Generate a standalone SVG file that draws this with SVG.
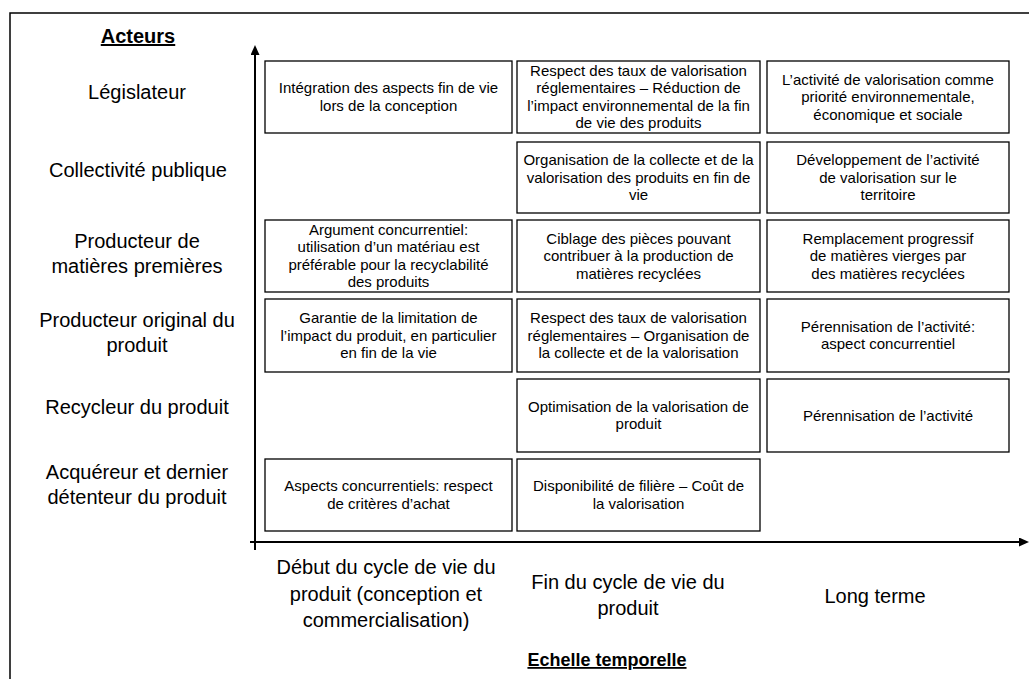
<svg xmlns="http://www.w3.org/2000/svg" width="1029" height="679" viewBox="0 0 1029 679">
<style>
  text { font-family: "Liberation Sans", Arial, sans-serif; fill: #000; }
  .box { fill: #fff; stroke: #000; stroke-width: 1.3; }
  .bt { font-size: 15px; text-anchor: middle; }
  .lab { font-size: 20px; text-anchor: middle; }
  .head { font-weight: bold; text-anchor: middle; text-decoration: underline; }
  .axis { stroke: #000; stroke-width: 2; fill: none; }
</style>
<defs>
  <marker id="arrow" markerUnits="userSpaceOnUse" markerWidth="11" markerHeight="10" refX="0" refY="4.5" orient="auto">
    <path d="M0,0 L10,4.5 L0,9 Z" fill="#000"/>
  </marker>
</defs>
<rect x="0" y="0" width="1029" height="679" fill="#fff"/>
<rect x="10" y="13" width="1030" height="700" fill="none" stroke="#000" stroke-width="1.5"/>

<g id="connectors">
  <line class="axis" x1="255" y1="550" x2="255" y2="55" marker-end="url(#arrow)"/>
  <line class="axis" x1="250" y1="542" x2="1019" y2="542" marker-end="url(#arrow)"/>
</g>

<g id="headers">
  <text class="head" x="138" y="43" font-size="20">Acteurs</text>
  <text class="head" x="607" y="666" font-size="18">Echelle temporelle</text>
</g>

<g id="actors">
  <text class="lab" x="137" y="99">Législateur</text>
  <text class="lab" x="138" y="177">Collectivité publique</text>
  <text class="lab" x="137" y="248"><tspan x="137">Producteur de</tspan><tspan x="137" dy="25">matières premières</tspan></text>
  <text class="lab" x="137" y="327"><tspan x="137">Producteur original du</tspan><tspan x="137" dy="25">produit</tspan></text>
  <text class="lab" x="137" y="414">Recycleur du produit</text>
  <text class="lab" x="137" y="479"><tspan x="137">Acquéreur et dernier</tspan><tspan x="137" dy="25">détenteur du produit</tspan></text>
</g>

<g id="time-labels">
  <text class="lab" x="386" y="574"><tspan x="386">Début du cycle de vie du</tspan><tspan x="386" dy="26.5">produit (conception et</tspan><tspan x="386" dy="26.5">commercialisation)</tspan></text>
  <text class="lab" x="628" y="589"><tspan x="628">Fin du cycle de vie du</tspan><tspan x="628" dy="25.5">produit</tspan></text>
  <text class="lab" x="875" y="603">Long terme</text>
</g>

<g id="r1c1">
  <rect class="box" x="265" y="61" width="247" height="72"/>
  <text class="bt" x="388.5" y="93.25"><tspan x="388.5">Intégration des aspects fin de vie</tspan><tspan x="388.5" dy="17.5">lors de la conception</tspan></text>
</g>
<g id="r1c2">
  <rect class="box" x="517" y="61" width="243" height="72"/>
  <text class="bt" x="638.5" y="75.75"><tspan x="638.5">Respect des taux de valorisation</tspan><tspan x="638.5" dy="17.5">réglementaires – Réduction de</tspan><tspan x="638.5" dy="17.5">l’impact environnemental de la fin</tspan><tspan x="638.5" dy="17.5">de vie des produits</tspan></text>
</g>
<g id="r1c3">
  <rect class="box" x="767" y="61" width="242" height="72"/>
  <text class="bt" x="888" y="84.5"><tspan x="888">L’activité de valorisation comme</tspan><tspan x="888" dy="17.5">priorité environnementale,</tspan><tspan x="888" dy="17.5">économique et sociale</tspan></text>
</g>

<g id="r2c2">
  <rect class="box" x="517" y="142" width="243" height="71"/>
  <text class="bt" x="638.5" y="165"><tspan x="638.5">Organisation de la collecte et de la</tspan><tspan x="638.5" dy="17.5">valorisation des produits en fin de</tspan><tspan x="638.5" dy="17.5">vie</tspan></text>
</g>
<g id="r2c3">
  <rect class="box" x="767" y="142" width="242" height="71"/>
  <text class="bt" x="888" y="165"><tspan x="888">Développement de l’activité</tspan><tspan x="888" dy="17.5">de valorisation sur le</tspan><tspan x="888" dy="17.5">territoire</tspan></text>
</g>

<g id="r3c1">
  <rect class="box" x="265" y="220" width="247" height="72"/>
  <text class="bt" x="388.5" y="234.75"><tspan x="388.5">Argument concurrentiel:</tspan><tspan x="388.5" dy="17.5">utilisation d’un matériau est</tspan><tspan x="388.5" dy="17.5">préférable pour la recyclabilité</tspan><tspan x="388.5" dy="17.5">des produits</tspan></text>
</g>
<g id="r3c2">
  <rect class="box" x="517" y="220" width="243" height="72"/>
  <text class="bt" x="638.5" y="243.5"><tspan x="638.5">Ciblage des pièces pouvant</tspan><tspan x="638.5" dy="17.5">contribuer à la production de</tspan><tspan x="638.5" dy="17.5">matières recyclées</tspan></text>
</g>
<g id="r3c3">
  <rect class="box" x="767" y="220" width="242" height="72"/>
  <text class="bt" x="888" y="243.5"><tspan x="888">Remplacement progressif</tspan><tspan x="888" dy="17.5">de matières vierges par</tspan><tspan x="888" dy="17.5">des matières recyclées</tspan></text>
</g>

<g id="r4c1">
  <rect class="box" x="265" y="299" width="247" height="73"/>
  <text class="bt" x="388.5" y="323"><tspan x="388.5">Garantie de la limitation de</tspan><tspan x="388.5" dy="17.5">l’impact du produit, en particulier</tspan><tspan x="388.5" dy="17.5">en fin de la vie</tspan></text>
</g>
<g id="r4c2">
  <rect class="box" x="517" y="299" width="243" height="73"/>
  <text class="bt" x="638.5" y="323"><tspan x="638.5">Respect des taux de valorisation</tspan><tspan x="638.5" dy="17.5">réglementaires – Organisation de</tspan><tspan x="638.5" dy="17.5">la collecte et de la valorisation</tspan></text>
</g>
<g id="r4c3">
  <rect class="box" x="767" y="299" width="242" height="73"/>
  <text class="bt" x="888" y="331.75"><tspan x="888">Pérennisation de l’activité:</tspan><tspan x="888" dy="17.5">aspect concurrentiel</tspan></text>
</g>

<g id="r5c2">
  <rect class="box" x="517" y="379" width="243" height="73"/>
  <text class="bt" x="638.5" y="411.75"><tspan x="638.5">Optimisation de la valorisation de</tspan><tspan x="638.5" dy="17.5">produit</tspan></text>
</g>
<g id="r5c3">
  <rect class="box" x="767" y="379" width="242" height="73"/>
  <text class="bt" x="888" y="420.5">Pérennisation de l’activité</text>
</g>

<g id="r6c1">
  <rect class="box" x="265" y="459" width="247" height="72"/>
  <text class="bt" x="388.5" y="491.25"><tspan x="388.5">Aspects concurrentiels: respect</tspan><tspan x="388.5" dy="17.5">de critères d’achat</tspan></text>
</g>
<g id="r6c2">
  <rect class="box" x="517" y="459" width="243" height="72"/>
  <text class="bt" x="638.5" y="491.25"><tspan x="638.5">Disponibilité de filière – Coût de</tspan><tspan x="638.5" dy="17.5">la valorisation</tspan></text>
</g>
</svg>
